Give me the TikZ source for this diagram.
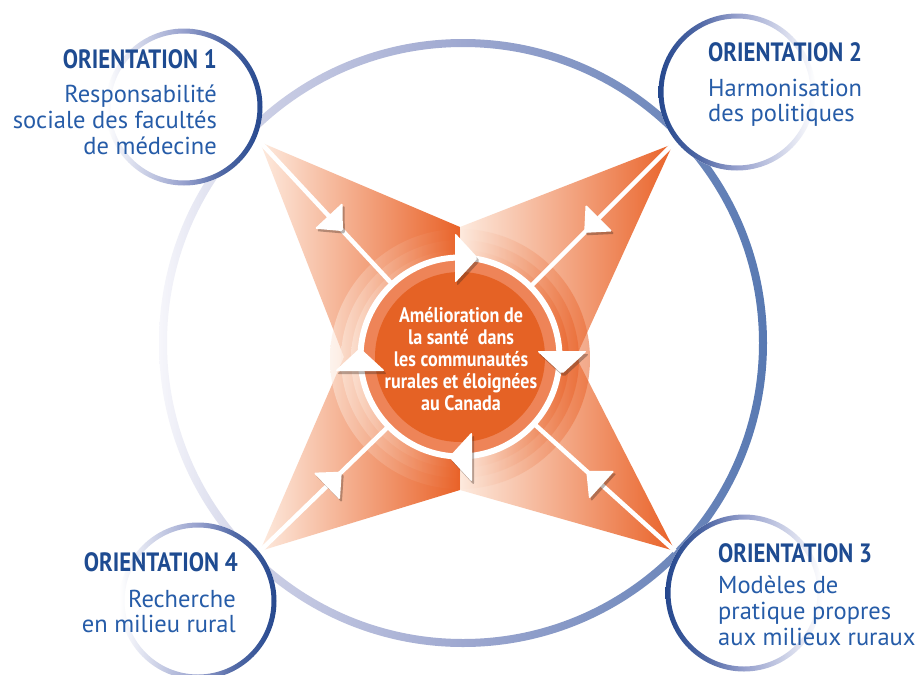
\documentclass[tikz,border=0pt]{standalone}
\usepackage{fontspec}
\setmainfont{PT Sans}
\newfontfamily\condfont{PT Sans}[FakeStretch=0.86]
\usetikzlibrary{calc}
\definecolor{hdblue}{RGB}{30,75,145}
\definecolor{txblue}{RGB}{38,92,168}
\definecolor{ringdark}{RGB}{37,72,142}
\definecolor{ringdk}{RGB}{80,104,165}
\definecolor{ringmid}{RGB}{150,160,205}
\definecolor{biglight}{RGB}{246,246,251}
\definecolor{biglav}{RGB}{205,208,230}
\definecolor{bigmid}{RGB}{158,168,208}
\definecolor{bigdark}{RGB}{88,121,178}
\definecolor{ordark}{RGB}{233,98,40}
\definecolor{orlight}{RGB}{253,234,222}
\definecolor{orband}{RGB}{238,132,88}
\definecolor{ordisk}{RGB}{229,98,37}
\definecolor{shadowgray}{RGB}{60,40,30}
\pgfdeclarehorizontalshading{bigring}{100bp}{color(0bp)=(biglight); color(25bp)=(biglight); color(33bp)=(biglav); color(50bp)=(bigmid); color(75bp)=(bigdark); color(100bp)=(bigdark)}
\pgfdeclarehorizontalshading{ringLR}{100bp}{color(0bp)=(white); color(25bp)=(white); color(50bp)=(ringmid); color(62bp)=(ringdk); color(75bp)=(ringdark); color(100bp)=(ringdark)}
\pgfdeclarehorizontalshading{ringRL}{100bp}{color(0bp)=(ringdark); color(25bp)=(ringdark); color(38bp)=(ringdk); color(50bp)=(ringmid); color(75bp)=(white); color(100bp)=(white)}
\begin{document}
\begin{tikzpicture}[x=1pt,y=-1pt,
  hd/.style={font=\condfont\bfseries\fontsize{26.5}{26.5}\selectfont, text=hdblue, inner sep=0pt},
  bd/.style={font=\fontsize{24.5}{24.5}\selectfont, text=txblue, inner sep=0pt},
  ctxt/.style={font=\condfont\bfseries\fontsize{21}{21}\selectfont, text=white, inner sep=0pt, anchor=base},
  wline/.style={draw=white, line width=4.5pt},
  orshade/.style={left color=orlight, right color=ordark},
  ringhead/.pic={\fill[white, rounded corners=2pt] (-6,-25) -- (17,0) -- (-6,25) -- cycle;},
  ringshadow/.pic={\fill[shadowgray, opacity=0.35, rounded corners=2pt] (-6,-25) -- (17,0) -- (-6,25) -- cycle;},
  diaghead/.pic={\fill[white, rounded corners=1.5pt] (0,-19) -- (21,0) -- (0,19) -- cycle;},
  diagshadow/.pic={\fill[shadowgray, opacity=0.35, rounded corners=1.5pt] (0,-19) -- (21,0) -- (0,19) -- cycle;},
]
\useasboundingbox (0,0) rectangle (919,675);
\fill[white] (0,0) rectangle (919,675);

% coordinates
\coordinate (ctr) at (460,357);
\coordinate (bigc) at (463,343);
\coordinate (c1) at (184,107);
\coordinate (c2) at (737,92);
\coordinate (c3) at (744,593);
\coordinate (c4) at (198,601);
\coordinate (apTL) at (260,142);
\coordinate (apTR) at (673,144);
\coordinate (apBR) at (675,551);
\coordinate (apBL) at (260,551);
\coordinate (inT) at (460,227);
\coordinate (inR) at (576,357);
\coordinate (inB) at (460,490);
\coordinate (inL) at (344,357);

% big ring
\shade[shading=bigring, even odd rule] (bigc) circle (304pt) (bigc) circle (296pt);

% star
\shade[orshade] (apTL) -- (inT) -- (inB) -- (apBL) -- (inL) -- cycle;
\shade[orshade] (inT) -- (apTR) -- (inR) -- (apBR) -- (inB) -- cycle;

% translucent rings
\foreach \R in {130,119,109}{
  \begin{scope}
    \clip (460,359) circle (\R pt);
    \shade[orshade, opacity=0.55] (460-\R,359-\R) rectangle (460,359+\R);
    \shade[orshade, opacity=0.55] (460,359-\R) rectangle (460+\R,359+\R);
  \end{scope}
}
\fill[orband] (ctr) circle (97pt);
\fill[ordisk] (ctr) circle (85pt);

% diagonal connectors
\coordinate (rTL) at ($(ctr)!100pt!(apTL)$);
\coordinate (rTR) at ($(ctr)!100pt!(apTR)$);
\coordinate (rBR) at ($(ctr)!100pt!(apBR)$);
\coordinate (rBL) at ($(ctr)!100pt!(apBL)$);
\draw[wline] (apTL) -- (rTL);
\draw[wline] (apTR) -- (rTR);
\draw[wline] (apBR) -- (rBR);
\draw[wline] (apBL) -- (rBL);

% white ring
\draw[white, line width=6pt] (ctr) circle (99.5pt);

% diagonal arrow heads
\pic[rotate=-47.1] at ($(apTL)!0.52!(rTL)+(2,2.5)$) {diagshadow};
\pic[rotate=-47.1] (hTL) at ($(apTL)!0.52!(rTL)$) {diaghead};
\pic[rotate=-135] at ($(apTR)!0.52!(rTR)+(2,2.5)$) {diagshadow};
\pic[rotate=-135] (hTR) at ($(apTR)!0.52!(rTR)$) {diaghead};
\pic[rotate=137.9] at ($(apBR)!0.52!(rBR)+(2,2.5)$) {diagshadow};
\pic[rotate=137.9] (hBR) at ($(apBR)!0.52!(rBR)$) {diaghead};
\pic[rotate=44.1] at ($(apBL)!0.52!(rBL)+(2,2.5)$) {diagshadow};
\pic[rotate=44.1] (hBL) at ($(apBL)!0.52!(rBL)$) {diaghead};

% ring arrow heads (clockwise)
\pic[rotate=0] at (463,261) {ringshadow};
\pic[rotate=0] (aT) at (461,258) {ringhead};
\pic[rotate=-90] at (564,360) {ringshadow};
\pic[rotate=-90] (aR) at (562,357) {ringhead};
\pic[rotate=180] at (468,460) {ringshadow};
\pic[rotate=180] (aB) at (466,457) {ringhead};
\pic[rotate=90] at (362,368) {ringshadow};
\pic[rotate=90] (aL) at (360,365) {ringhead};

% corner circles
\fill[white] (c1) circle (78.5pt);
\shade[shading=ringLR, even odd rule] (c1) circle (78.5pt) (c1) circle (73.5pt);
\fill[white] (c2) circle (78.5pt);
\shade[shading=ringRL, even odd rule] (c2) circle (78.5pt) (c2) circle (73.5pt);
\fill[white] (c3) circle (78.5pt);
\shade[shading=ringRL, even odd rule] (c3) circle (78.5pt) (c3) circle (73.5pt);
\fill[white] (c4) circle (78.5pt);
\shade[shading=ringLR, even odd rule] (c4) circle (78.5pt) (c4) circle (73.5pt);

% texts
\node[hd, anchor=base east] (h1) at (217,68) {ORIENTATION 1};
\node[bd, anchor=base east] (t1a) at (217,102) {Responsabilité};
\node[bd, anchor=base east] (t1b) at (217,128) {sociale des facultés};
\node[bd, anchor=base east] (t1c) at (217,154) {de médecine};

\node[hd, anchor=base west] (h2) at (708,61) {ORIENTATION 2};
\node[bd, anchor=base west] (t2a) at (708,96) {Harmonisation};
\node[bd, anchor=base west] (t2b) at (708,121) {des politiques};

\node[hd, anchor=base west] (h3) at (718,562) {ORIENTATION 3};
\node[bd, anchor=base west] (t3a) at (718,593) {Modèles de};
\node[bd, anchor=base west] (t3b) at (718,619) {pratique propres};
\node[bd, anchor=base west] (t3c) at (718,645) {aux milieux ruraux};

\node[hd, anchor=base east] (h4) at (238,571) {ORIENTATION 4};
\node[bd, anchor=base east] (t4a) at (236,607) {Recherche};
\node[bd, anchor=base east] (t4b) at (236,632) {en milieu rural};

\node[ctxt] (ct1) at (461,322) {Amélioration de};
\node[ctxt] (ct2) at (461,344) {la santé\ \ dans};
\node[ctxt] (ct3) at (461,366) {les communautés};
\node[ctxt] (ct4) at (461,388) {rurales et éloignées};
\node[ctxt] (ct5) at (461,410) {au Canada};
\end{tikzpicture}
\end{document}
